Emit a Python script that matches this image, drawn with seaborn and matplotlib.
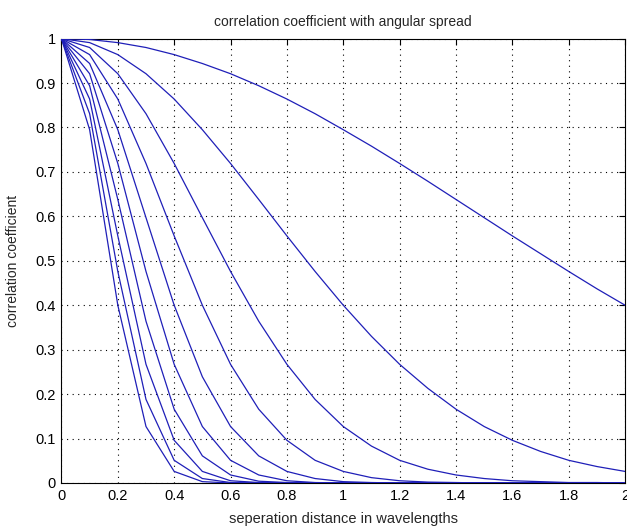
import pandas as pd
import matplotlib
matplotlib.use('Agg')
import matplotlib.pyplot as plt
import seaborn as sns

# separation distance (wavelengths), sampled every 0.1
dist = [0.0, 0.1, 0.2, 0.3, 0.4, 0.5, 0.6, 0.7, 0.8, 0.9, 1.0,
        1.1, 1.2, 1.3, 1.4, 1.5, 1.6, 1.7, 1.8, 1.9, 2.0]

# correlation coefficient curves, narrowest angular spread first
rho_1 = [1.0, 0.998, 0.991, 0.980, 0.964, 0.944, 0.921, 0.894, 0.864, 0.831, 0.795,
         0.758, 0.719, 0.679, 0.638, 0.597, 0.556, 0.516, 0.476, 0.437, 0.400]
rho_2 = [1.0, 0.991, 0.964, 0.921, 0.864, 0.795, 0.719, 0.638, 0.556, 0.476, 0.400,
         0.330, 0.267, 0.213, 0.166, 0.127, 0.096, 0.071, 0.051, 0.037, 0.026]
rho_3 = [1.0, 0.980, 0.921, 0.831, 0.719, 0.597, 0.476, 0.364, 0.267, 0.188, 0.127,
         0.083, 0.051, 0.031, 0.018, 0.010, 0.005, 0.003, 0.001, 0.001, 0.0]
rho_4 = [1.0, 0.964, 0.864, 0.719, 0.556, 0.400, 0.267, 0.166, 0.096, 0.051, 0.026,
         0.012, 0.005, 0.002, 0.001, 0.0, 0.0, 0.0, 0.0, 0.0, 0.0]
rho_5 = [1.0, 0.944, 0.795, 0.597, 0.400, 0.239, 0.127, 0.061, 0.026, 0.010, 0.003,
         0.001, 0.0, 0.0, 0.0, 0.0, 0.0, 0.0, 0.0, 0.0, 0.0]
rho_6 = [1.0, 0.921, 0.719, 0.476, 0.267, 0.127, 0.051, 0.018, 0.005, 0.001, 0.0,
         0.0, 0.0, 0.0, 0.0, 0.0, 0.0, 0.0, 0.0, 0.0, 0.0]
rho_7 = [1.0, 0.894, 0.638, 0.364, 0.166, 0.061, 0.018, 0.004, 0.001, 0.0, 0.0,
         0.0, 0.0, 0.0, 0.0, 0.0, 0.0, 0.0, 0.0, 0.0, 0.0]
rho_8 = [1.0, 0.864, 0.556, 0.267, 0.096, 0.026, 0.005, 0.001, 0.0, 0.0, 0.0,
         0.0, 0.0, 0.0, 0.0, 0.0, 0.0, 0.0, 0.0, 0.0, 0.0]
rho_9 = [1.0, 0.831, 0.476, 0.188, 0.051, 0.010, 0.001, 0.0, 0.0, 0.0, 0.0,
         0.0, 0.0, 0.0, 0.0, 0.0, 0.0, 0.0, 0.0, 0.0, 0.0]
rho_10 = [1.0, 0.795, 0.400, 0.127, 0.026, 0.003, 0.0, 0.0, 0.0, 0.0, 0.0,
          0.0, 0.0, 0.0, 0.0, 0.0, 0.0, 0.0, 0.0, 0.0, 0.0]

curves = [rho_1, rho_2, rho_3, rho_4, rho_5, rho_6, rho_7, rho_8, rho_9, rho_10]

x_ticks = [0, 0.2, 0.4, 0.6, 0.8, 1.0, 1.2, 1.4, 1.6, 1.8, 2.0]
x_labels = ['0', '0.2', '0.4', '0.6', '0.8', '1', '1.2', '1.4', '1.6', '1.8', '2']
y_ticks = [0, 0.1, 0.2, 0.3, 0.4, 0.5, 0.6, 0.7, 0.8, 0.9, 1.0]
y_labels = ['0', '0.1', '0.2', '0.3', '0.4', '0.5', '0.6', '0.7', '0.8', '0.9', '1']

# long table for seaborn
rows = []
for i, rho in enumerate(curves):
    for d, r in zip(dist, rho):
        rows.append({'curve': i, 'dist': d, 'rho': r})
df = pd.DataFrame(rows)

sns.set_style('white')
plt.rcParams['font.family'] = ['Liberation Sans', 'DejaVu Sans']

fig = plt.figure(figsize=(6.27, 5.29), dpi=100)
ax = fig.add_axes([0.098, 0.087, 0.899, 0.840])

line_color = '#1f1fb8'
sns.lineplot(data=df, x='dist', y='rho', hue='curve', units='curve',
             estimator=None, sort=False, palette=[line_color] * len(curves),
             legend=False, linewidth=0.9, ax=ax, zorder=3)

ax.set_xlim(0, 2)
ax.set_ylim(0, 1)
ax.set_xticks(x_ticks)
ax.set_xticklabels(x_labels)
ax.set_yticks(y_ticks)
ax.set_yticklabels(y_labels)

ax.grid(True, color='black', linestyle=(0, (1, 4)), linewidth=0.8)
ax.tick_params(direction='in', length=4, width=0.8, top=True, right=True,
               labelsize=10.5, colors='black', pad=4)
for s in ax.spines.values():
    s.set_color('black')
    s.set_linewidth(0.8)

ax.set_title('correlation coefficient with angular spread', fontsize=10, pad=9)
ax.set_xlabel('seperation distance in wavelengths', fontsize=10.5, labelpad=7)
ax.set_ylabel('correlation coefficient', fontsize=10, labelpad=11)

fig.savefig('out.png', dpi=100, facecolor='white')
